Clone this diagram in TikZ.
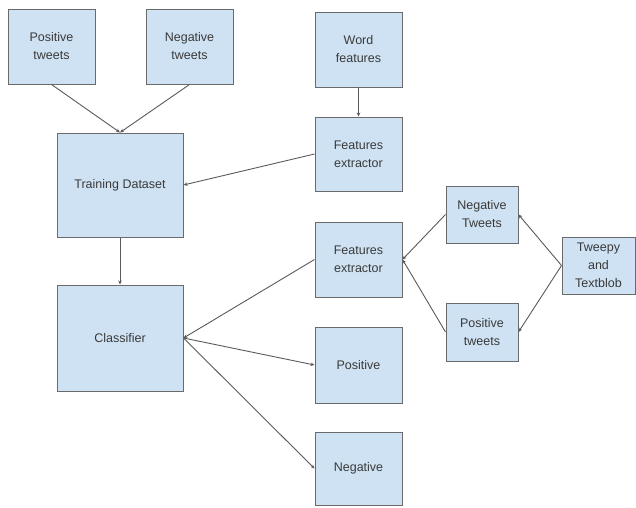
\documentclass[tikz,border=0pt]{standalone}
\usepackage{fontspec}
\setmainfont{Liberation Sans}
\usetikzlibrary{arrows.meta}
\definecolor{boxfill}{HTML}{CFE2F3}
\definecolor{boxline}{HTML}{6A6A6A}
\definecolor{arrline}{HTML}{5A5A5A}
\definecolor{txt}{HTML}{3A3A3A}
\tikzset{
  box/.style={draw=boxline, line width=1pt, fill=boxfill, inner sep=0pt,
    align=center, text=txt, font=\fontsize{12.5}{18}\selectfont},
  arr/.style={draw=arrline, line width=0.9pt, -{Stealth[length=4pt,width=3.5pt]}}
}
\begin{document}
\begin{tikzpicture}[x=1pt,y=-1pt]
\useasboundingbox (0,0) rectangle (636,507);
\node[box, minimum width=87pt, minimum height=75pt] (pt) at (51.5,46.5) {Positive\\tweets};
\node[box, minimum width=87pt, minimum height=75pt] (nt) at (189.5,46.5) {Negative\\tweets};
\node[box, minimum width=87pt, minimum height=75pt] (wf) at (358.5,49.5) {Word\\features};
\node[box, minimum width=87pt, minimum height=74pt] (fe1) at (358.5,154) {Features\\extractor};
\node[box, minimum width=126pt, minimum height=104pt] (td) at (120,185) {Training Dataset};
\node[box, minimum width=87pt, minimum height=75pt] (fe2) at (358.5,259.5) {Features\\extractor};
\node[box, minimum width=72pt, minimum height=57pt] (ngt) at (482,214.5) {Negative\\Tweets};
\node[box, minimum width=72pt, minimum height=58pt] (pst) at (482,332) {Positive\\tweets};
\node[box, minimum width=73pt, minimum height=57pt] (tw) at (598.5,265.5) {Tweepy\\and\\Textblob};
\node[box, minimum width=126pt, minimum height=106pt] (cl) at (120,338) {Classifier};
\node[box, minimum width=87pt, minimum height=76pt] (pos) at (358.5,365) {Positive};
\node[box, minimum width=87pt, minimum height=73pt] (neg) at (358.5,468.5) {Negative};
\draw[arr] (pt.south) -- (td.north);
\draw[arr] (nt.south) -- (td.north);
\draw[arr] (wf.south) -- (fe1.north);
\draw[arr] (fe1.west) -- (td.east);
\draw[arr] (td.south) -- (cl.north);
\draw[arr] (fe2.west) -- (cl.east);
\draw[arr] (cl.east) -- (pos.west);
\draw[arr] (cl.east) -- (neg.west);
\draw[arr] (tw.west) -- (ngt.east);
\draw[arr] (tw.west) -- (pst.east);
\draw[arr] (ngt.west) -- (fe2.east);
\draw[arr] (pst.west) -- (fe2.east);
\end{tikzpicture}
\end{document}
